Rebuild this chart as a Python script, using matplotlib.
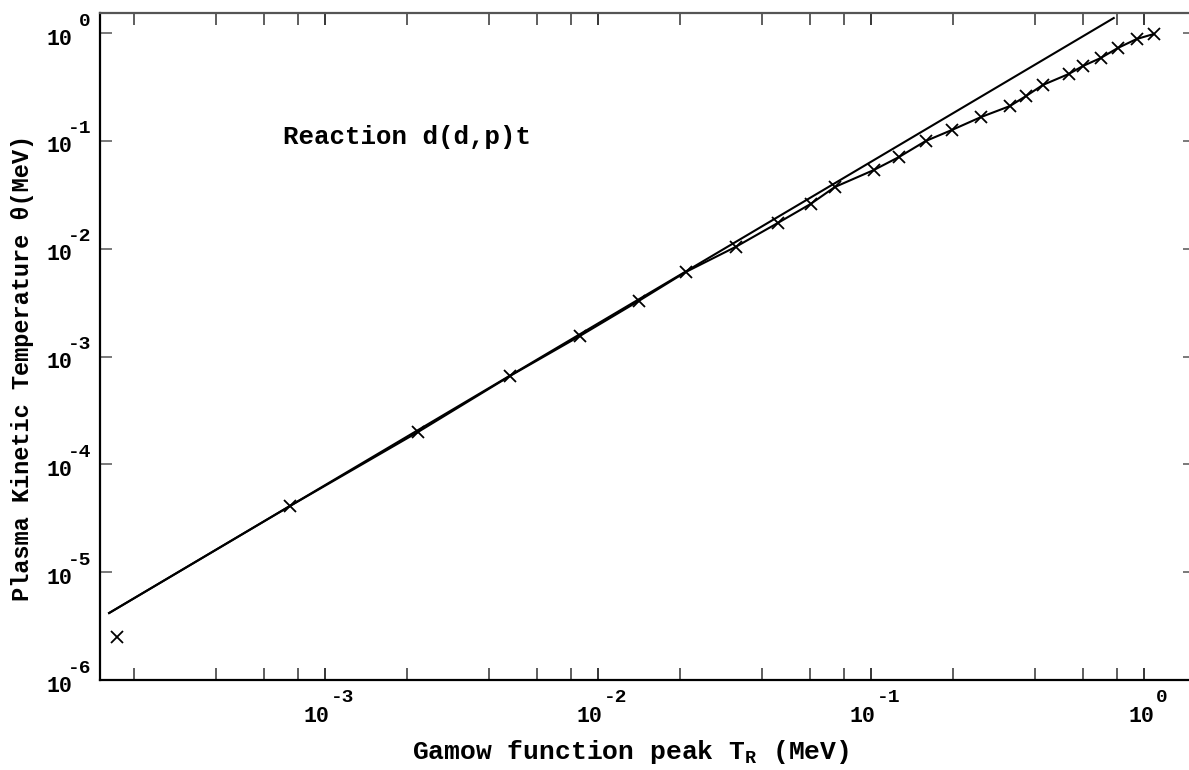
import numpy as np
import matplotlib
matplotlib.use("Agg")
import matplotlib.pyplot as plt
from matplotlib.ticker import LogLocator, NullFormatter
from matplotlib.transforms import offset_copy

plt.rcParams['font.family'] = ['Liberation Mono', 'DejaVu Sans Mono']
plt.rcParams['font.weight'] = 'bold'
plt.rcParams['mathtext.fontset'] = 'custom'
plt.rcParams['mathtext.rm'] = 'Liberation Mono:bold'
plt.rcParams['mathtext.it'] = 'Liberation Mono:bold'
plt.rcParams['mathtext.bf'] = 'Liberation Mono:bold'

# Gamow peak T_R (MeV) vs plasma temperature theta (MeV), d(d,p)t
t_pts = [1.73e-4, 7.44e-4, 2.19e-3, 4.76e-3, 8.59e-3, 1.41e-2, 2.10e-2,
         3.20e-2, 4.56e-2, 6.02e-2, 7.38e-2, 0.1025, 0.1268, 0.1588,
         0.198, 0.253, 0.323, 0.370, 0.427, 0.531, 0.598, 0.695, 0.803,
         0.942, 1.088]
theta_pts = [2.50e-6, 4.10e-5, 1.99e-4, 6.59e-4, 1.55e-3, 3.27e-3, 6.08e-3,
             1.04e-2, 1.73e-2, 2.60e-2, 3.73e-2, 5.36e-2, 7.08e-2, 9.96e-2,
             0.126, 0.166, 0.210, 0.260, 0.330, 0.417, 0.494, 0.586, 0.726,
             0.880, 0.979]

# asymptotic power law theta ~ T_R^1.5
t_line = [1.62e-4, 0.776]
theta_line = [4.18e-6, 1.377]

x_decades = [-3, -2, -1, 0]
y_decades = [-6, -5, -4, -3, -2, -1, 0]

W, H = 1189, 770
fig = plt.figure(figsize=(W / 100, H / 100), dpi=100)
ax = fig.add_axes([100 / W, 90 / H, 1095 / W, 667 / H])

# curve through the computed points, starting where the power law starts
t_curve = np.r_[t_line[0], t_pts[1:]]
theta_curve = np.r_[theta_line[0], theta_pts[1:]]

ax.plot(t_line, theta_line, color='black', lw=1.5)
ax.plot(t_curve, theta_curve, color='black', lw=1.5)
ax.plot(t_pts, theta_pts, ls='none', marker='x', ms=9, mew=1.3, color='black')

ax.set_xscale('log')
ax.set_yscale('log')
ax.set_xlim(1.50e-4, 1.54)
ax.set_ylim(1e-6, 1.533)

ax.xaxis.set_major_locator(LogLocator(base=10, numticks=10))
ax.xaxis.set_minor_locator(LogLocator(base=10, subs=(2, 4, 6, 8), numticks=20))
ax.yaxis.set_major_locator(LogLocator(base=10, numticks=10))
ax.yaxis.set_minor_locator(LogLocator(base=10, subs=(), numticks=10))
for axis in (ax.xaxis, ax.yaxis):
    axis.set_major_formatter(NullFormatter())
    axis.set_minor_formatter(NullFormatter())

ax.tick_params(which='both', direction='in', length=8.6, width=1.1,
               top=True, right=True, colors='black')
ax.tick_params(axis='x', which='minor', color='#333333')
ax.tick_params(axis='y', which='both', right=True, color='#555555')
ax.tick_params(axis='y', which='major', left=True)
for side in ('left', 'bottom'):
    ax.spines[side].set_linewidth(1.6)
    ax.spines[side].set_color('black')
ax.spines['top'].set_linewidth(1.6)
ax.spines['top'].set_color('#555555')
ax.spines['right'].set_color('#555555')
for tick in ax.yaxis.get_major_ticks():
    tick.tick1line.set_color('black')

# tick labels drawn as "10" plus a raised exponent
ytrans = ax.get_yaxis_transform()
for e in y_decades:
    ax.text(0, 10.0 ** e, "10", fontsize=15.5, ha='right', va='center',
            transform=offset_copy(ytrans, fig, x=-28, y=-6, units='dots'))
    ax.text(0, 10.0 ** e, str(e), fontsize=14, ha='right', va='center',
            transform=offset_copy(ytrans, fig, x=-9, y=12, units='dots'))

xtrans = ax.get_xaxis_transform()
w_base, w_char = 26.5, 11.5
for e in x_decades:
    total = w_base + w_char * len(str(e))
    left = 3.5 - total / 2
    ax.text(10.0 ** e, 0, "10", fontsize=15.5, ha='left', va='center',
            transform=offset_copy(xtrans, fig, x=left, y=-37, units='dots'))
    ax.text(10.0 ** e, 0, str(e), fontsize=14, ha='left', va='center',
            transform=offset_copy(xtrans, fig, x=left + w_base + 1, y=-18,
                                  units='dots'))

ax.text(0.1671, 0.814, "Reaction d(d,p)t", transform=ax.transAxes,
        fontsize=18.5, ha='left', va='center')

fig.text(631 / W, 1 - 752 / H, r"Gamow function peak $\mathrm{T_R}$ (MeV)",
         fontsize=19, ha='center', va='center')
fig.text(23 / W, 1 - 368 / H, "Plasma Kinetic Temperature \u03b8(MeV)",
         fontsize=17, rotation=90, ha='center', va='center')

fig.savefig("out.png", dpi=100)
